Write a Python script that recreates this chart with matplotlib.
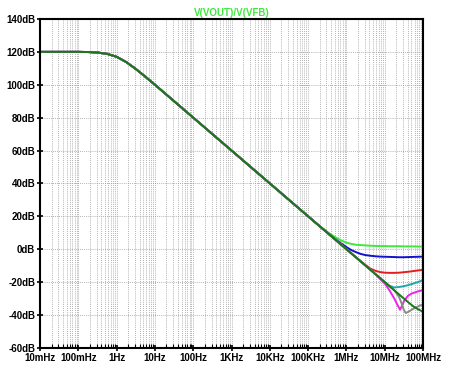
import numpy as np
from matplotlib import pyplot as plt
from matplotlib.ticker import FixedLocator, LogLocator, NullFormatter

# shared low-frequency part (all traces overlap here)
lf_freq = [0.01, 0.0178, 0.0316, 0.0562, 0.1, 0.178, 0.316, 0.562, 1, 1.78, 3.16, 5.62,
           10, 17.8, 31.6, 56.2, 100, 178, 316, 562, 1e3, 1.78e3, 3.16e3, 5.62e3,
           1e4, 1.78e4, 3.16e4, 5.62e4, 1e5, 1.78e5]
lf_db = [120.0, 120.0, 120.0, 120.0, 120.0, 119.9, 119.6, 118.8, 117.0, 113.8, 109.6, 104.9,
         100.0, 95.0, 90.0, 85.0, 80.0, 75.0, 70.0, 65.0, 60.0, 55.0, 50.0, 45.0,
         40.0, 35.0, 30.0, 25.0, 20.0, 15.0]

# high-frequency part
hf_freq = [3.16e5, 4.22e5, 5.62e5, 7.5e5, 1e6, 1.33e6, 1.78e6, 2.37e6, 3.16e6, 4.22e6,
           5.62e6, 7.5e6, 1e7, 1.33e7, 1.78e7, 2.37e7, 3.16e7, 4.22e7, 5.62e7, 7.5e7, 1e8]
db_lgreen = [10.6, 8.5, 6.7, 5.2, 4.0, 3.2, 2.7, 2.5, 2.3, 2.1, 2.0, 1.9, 1.9, 1.8, 1.8,
             1.8, 1.7, 1.7, 1.7, 1.6, 1.6]
db_blue = [10.1, 7.7, 5.4, 3.3, 1.3, -0.5, -1.8, -2.9, -3.6, -4.0, -4.3, -4.5, -4.6, -4.7,
           -4.8, -4.9, -4.9, -4.8, -4.7, -4.6, -4.5]
db_red = [10.0, 7.5, 5.0, 2.6, 0.1, -2.4, -4.9, -7.3, -9.6, -11.8, -13.1, -13.9, -14.3,
          -14.4, -14.4, -14.3, -14.0, -13.7, -13.3, -12.9, -12.6]
db_cyan = [10.0, 7.5, 5.0, 2.5, 0.0, -2.5, -5.0, -7.5, -10.0, -12.5, -15.0, -17.5, -20.0,
           -22.2, -23.3, -23.0, -22.5, -21.8, -20.9, -19.9, -18.8]
db_dgreen = [10.0, 7.5, 5.0, 2.5, 0.0, -2.5, -5.0, -7.5, -10.0, -12.5, -15.0, -17.5, -20.0,
             -22.5, -25.0, -27.5, -30.0, -32.5, -34.8, -36.6, -38.0]

mag_freq = [3.16e5, 5.62e5, 1e6, 1.78e6, 3.16e6, 5.62e6, 7.5e6, 1e7, 1.33e7, 1.78e7,
            2.11e7, 2.51e7, 2.82e7, 3.16e7, 3.98e7, 5.01e7, 7.08e7, 1e8]
db_mag = [10.0, 5.0, 0.0, -5.0, -10.0, -15.0, -18.0, -20.8, -25.0, -30.0,
          -33.5, -36.8, -34.5, -31.8, -28.5, -27.0, -25.8, -24.9]

gray_freq = [3.16e5, 5.62e5, 1e6, 1.78e6, 3.16e6, 5.62e6, 1e7, 1.78e7, 2.37e7, 2.82e7,
             3.16e7, 3.55e7, 4.22e7, 5.62e7, 7.5e7, 1e8]
db_gray = [10.0, 5.0, 0.0, -5.0, -10.0, -15.0, -20.0, -25.0, -29.0, -33.5,
           -37.0, -38.8, -38.0, -36.2, -34.8, -33.5]

xtick_vals = [1e-2, 1e-1, 1, 10, 100, 1e3, 1e4, 1e5, 1e6, 1e7, 1e8]
xtick_labels = ["10mHz", "100mHz", "1Hz", "10Hz", "100Hz", "1KHz", "10KHz", "100KHz",
                "1MHz", "10MHz", "100MHz"]
ytick_vals = [-60, -40, -20, 0, 20, 40, 60, 80, 100, 120, 140]

plt.rcParams['font.family'] = ['Liberation Sans', 'DejaVu Sans']

fig = plt.figure(figsize=(4.5, 3.65), dpi=100)
ax = fig.add_axes([0.089, 0.047, 0.851, 0.901])

traces = [
    (hf_freq, db_lgreen, "#3ee83e"),
    (hf_freq, db_blue, "#1010d0"),
    (hf_freq, db_red, "#e02020"),
    (hf_freq, db_cyan, "#20a8a8"),
    (mag_freq, db_mag, "#ee22ee"),
    (gray_freq, db_gray, "#8a8a8a"),
    (hf_freq, db_dgreen, "#187818"),
]
for f, d, c in traces:
    ax.plot(np.concatenate([lf_freq, f]), np.concatenate([lf_db, d]), color=c, lw=1.4)

ax.set_xscale("log")
ax.set_xlim(1e-2, 1e8)
ax.set_ylim(-60, 140)

ax.xaxis.set_major_locator(FixedLocator(xtick_vals))
ax.set_xticklabels(xtick_labels)
ax.xaxis.set_minor_locator(LogLocator(base=10, subs=np.arange(2, 10), numticks=100))
ax.xaxis.set_minor_formatter(NullFormatter())
ax.set_yticks(ytick_vals)
ax.set_yticklabels([f"{v}dB" for v in ytick_vals])

ax.grid(True, which="both", axis="x", color="#9a9a9a", ls=(0, (1, 1.5)), lw=0.6)
ax.grid(True, which="major", axis="y", color="#9a9a9a", ls=(0, (1, 1.5)), lw=0.6)

ax.tick_params(axis="both", which="major", direction="inout", length=5, width=1.2,
               labelsize=7, pad=1)
ax.tick_params(axis="x", which="minor", direction="in", length=3, width=0.8)
for lab in ax.get_xticklabels() + ax.get_yticklabels():
    lab.set_fontweight("bold")
for sp in ax.spines.values():
    sp.set_linewidth(1.5)

ax.set_title("V(VOUT)/V(VFB)", color="#3ee83e", fontsize=7, fontweight="bold", pad=2)

fig.savefig("out.png", dpi=100)
